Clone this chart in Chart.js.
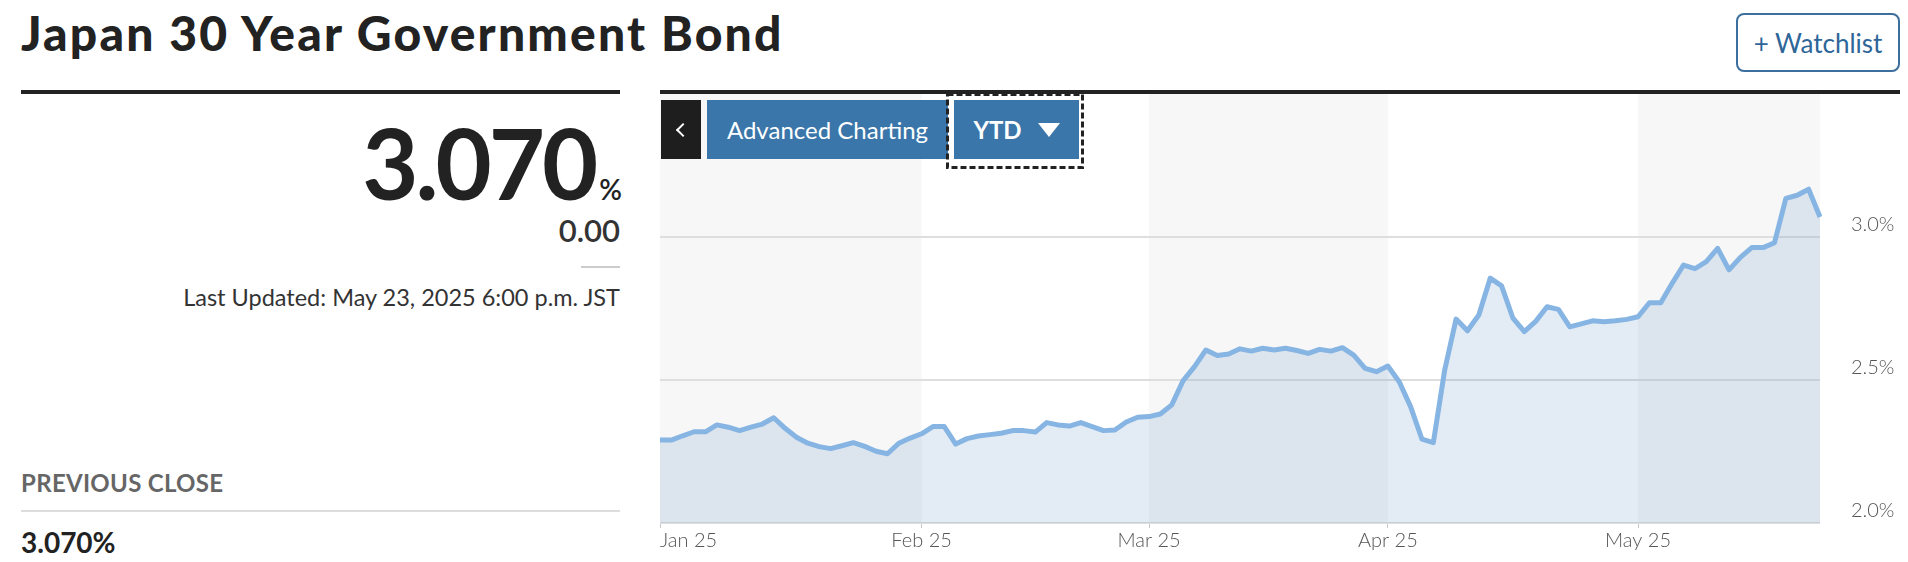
<!DOCTYPE html>
<html>
<head>
<meta charset="utf-8">
<title>Japan 30 Year Government Bond</title>
<script src="https://cdn.jsdelivr.net/npm/chart.js@4.4.1/dist/chart.umd.min.js"></script>
<style>
  html, body { margin: 0; padding: 0; background: #fff; }
  body { width: 1908px; height: 562px; position: relative; overflow: hidden; font-family: Lato, 'Open Sans', sans-serif; color: #222; }
  .abs { position: absolute; line-height: 1; white-space: nowrap; }
  #title { left: 21px; top: 9px; font-size: 48px; font-weight: 900; letter-spacing: 2.2px; color: #222; }
  .rule { position: absolute; background: #222; height: 4px; top: 90px; }
  #price { left: 21px; width: 601px; top: 114px; text-align: right; font-size: 97px; font-weight: 700; letter-spacing: -3px; color: #222; }
  #price span { font-size: 28px; font-weight: 600; letter-spacing: 0; margin-left: 4px; }
  #change { left: 21px; width: 599px; top: 215px; text-align: right; font-size: 31px; font-weight: 600; color: #333; }
  #shortRule { position: absolute; left: 581px; top: 266px; width: 39px; height: 2px; background: #ccc; }
  #updated { left: 21px; width: 599px; top: 286px; text-align: right; font-size: 23.5px; color: #333; }
  #prevLabel { left: 21px; top: 471px; font-size: 24px; font-weight: 700; color: #666; letter-spacing: 0.3px; }
  #prevRule { position: absolute; left: 21px; top: 510px; width: 599px; height: 2px; background: #ddd; }
  #prevValue { left: 21px; top: 528px; font-size: 28px; font-weight: 700; color: #222; }
  #watch { position: absolute; left: 1736px; top: 13px; width: 160px; height: 55px; border: 2px solid #3d6f9e; border-radius: 8px; color: #2e6699; font-size: 26px; display: flex; align-items: center; justify-content: center; }
  #chartBox { position: absolute; left: 660px; top: 94px; width: 1248px; height: 468px; }
  #back { position: absolute; left: 661px; top: 100px; width: 40px; height: 59px; background: #1e1e1e; z-index: 2; }
  #back::after { content: ''; position: absolute; left: 17px; top: 25px; width: 8px; height: 8px; border-left: 2.5px solid #fff; border-bottom: 2.5px solid #fff; transform: rotate(45deg); }
  #adv { position: absolute; left: 707px; top: 100px; width: 241px; height: 59px; background: #3a76a9; color: #fff; font-size: 24px; display: flex; align-items: center; justify-content: center; z-index: 2; }
  #ytdOutline { position: absolute; left: 946px; top: 93px; z-index: 3; }
  #ytd { position: absolute; left: 954px; top: 100px; width: 125px; height: 59px; background: #3a76a9; color: #fff; font-size: 24px; font-weight: 700; display: flex; align-items: center; justify-content: center; z-index: 2; }
  #ytd i { display: inline-block; width: 0; height: 0; border-left: 11px solid transparent; border-right: 11px solid transparent; border-top: 14px solid #fff; margin-left: 16px; }
</style>
</head>
<body>
<div id="title" class="abs">Japan 30 Year Government Bond</div>
<div id="watch">+ Watchlist</div>
<div class="rule" style="left:21px;width:599px"></div>
<div class="rule" style="left:660px;width:1240px"></div>

<div id="price" class="abs">3.070<span>%</span></div>
<div id="change" class="abs">0.00</div>
<div id="shortRule"></div>
<div id="updated" class="abs">Last Updated: May 23, 2025 6:00 p.m. JST</div>
<div id="prevLabel" class="abs">PREVIOUS CLOSE</div>
<div id="prevRule"></div>
<div id="prevValue" class="abs">3.070%</div>

<div id="chartBox"><canvas id="yieldChart"></canvas></div>
<div id="back"></div>
<div id="adv">Advanced Charting</div>
<div id="ytd">YTD<i></i></div>
<svg id="ytdOutline" width="138" height="76"><rect x="1.5" y="1.5" width="135" height="73" fill="none" stroke="#222" stroke-width="3" stroke-dasharray="6 3"/></svg>

<script>
// trading days, Jan 1 - May 23 2025
const dates = [
  '01-01','01-02','01-03','01-06','01-07','01-08','01-09','01-10','01-13','01-14','01-15','01-16',
  '01-17','01-20','01-21','01-22','01-23','01-24','01-27','01-28','01-29','01-30','01-31',
  '02-03','02-04','02-05','02-06','02-07','02-10','02-11','02-12','02-13','02-14','02-17','02-18',
  '02-19','02-20','02-21','02-24','02-25','02-26','02-27','02-28',
  '03-03','03-04','03-05','03-06','03-07','03-10','03-11','03-12','03-13','03-14','03-17','03-18',
  '03-19','03-20','03-21','03-24','03-25','03-26','03-27','03-28','03-31',
  '04-01','04-02','04-03','04-04','04-07','04-08','04-09','04-10','04-11','04-14','04-15','04-16',
  '04-17','04-18','04-21','04-22','04-23','04-24','04-25','04-28','04-29','04-30',
  '05-01','05-02','05-05','05-06','05-07','05-08','05-09','05-12','05-13','05-14','05-15','05-16',
  '05-19','05-20','05-21','05-22','05-23'
];

const yields = [
  2.290, 2.290, 2.305, 2.319, 2.319, 2.343, 2.335, 2.323, 2.335, 2.346, 2.368, 2.331,
  2.300, 2.279, 2.267, 2.260, 2.270, 2.281, 2.268, 2.251, 2.242, 2.279, 2.297,
  2.312, 2.337, 2.337, 2.276, 2.295, 2.304, 2.309, 2.314, 2.323, 2.323, 2.318, 2.351,
  2.343, 2.339, 2.351, 2.337, 2.323, 2.325, 2.353, 2.370,
  2.372, 2.381, 2.413, 2.498, 2.547, 2.605, 2.586, 2.591, 2.609, 2.601, 2.611, 2.605,
  2.611, 2.603, 2.593, 2.607, 2.601, 2.613, 2.587, 2.541, 2.529,
  2.549, 2.494, 2.407, 2.293, 2.281, 2.535, 2.713, 2.672, 2.727, 2.856, 2.829, 2.716,
  2.669, 2.705, 2.756, 2.747, 2.686, 2.696, 2.707, 2.704, 2.707, 2.712,
  2.721, 2.770, 2.770, 2.838, 2.902, 2.889, 2.914, 2.960, 2.885, 2.929, 2.963, 2.963,
  2.980, 3.135, 3.146, 3.167, 3.070
];

const monthLabels = ['Jan 25', 'Feb 25', 'Mar 25', 'Apr 25', 'May 25'];
const yTicks = [2.0, 2.5, 3.0];

// index of the first trading day of each month
const monthStarts = [];
dates.forEach((d, i) => {
  if (i === 0 || d.slice(0, 2) !== dates[i - 1].slice(0, 2)) monthStarts.push(i);
});

const monthBands = {
  id: 'monthBands',
  beforeDraw(chart) {
    const { ctx, chartArea, scales: { x } } = chart;
    ctx.save();
    ctx.fillStyle = '#f7f7f7';
    monthStarts.forEach((start, k) => {
      if (k % 2) return;
      const x0 = x.getPixelForValue(start);
      const x1 = k + 1 < monthStarts.length ? x.getPixelForValue(monthStarts[k + 1]) : chartArea.right;
      ctx.fillRect(x0, chartArea.top, x1 - x0, chartArea.bottom - chartArea.top);
    });
    ctx.restore();
  }
};

const tickFont = { family: 'Lato', size: 20, weight: 300 };

new Chart(document.getElementById('yieldChart'), {
  type: 'line',
  data: {
    labels: dates,
    datasets: [{
      data: yields,
      borderColor: '#86b5e3',
      backgroundColor: 'rgba(70,130,180,0.15)',
      borderWidth: 5,
      fill: 'start',
      pointRadius: 0,
      tension: 0,
      borderJoinStyle: 'round'
    }]
  },
  options: {
    responsive: true,
    maintainAspectRatio: false,
    animation: false,
    layout: { padding: 0 },
    plugins: { legend: { display: false }, tooltip: { enabled: false } },
    scales: {
      x: {
        grid: {
          drawOnChartArea: false,
          tickLength: 5,
          color: ctx => monthStarts.includes(ctx.index) ? '#c8c8c8' : 'transparent'
        },
        border: { display: false },
        ticks: {
          autoSkip: false,
          maxRotation: 0,
          minRotation: 0,
          align: 'inner',
          padding: 1,
          color: '#555',
          font: tickFont,
          callback: (v, i) => {
            const k = monthStarts.indexOf(i);
            return k >= 0 ? monthLabels[k] : '';
          }
        },
        afterFit: s => { s.paddingLeft = 0; s.paddingRight = 0; s.height = 39; }
      },
      y: {
        position: 'right',
        min: 2.0,
        max: 3.5,
        grid: {
          lineWidth: 2,
          tickLength: 28,
          tickColor: 'transparent',
          color: ctx => yTicks.includes(ctx.tick.value) ? '#dedede' : 'transparent'
        },
        border: { display: false },
        ticks: {
          stepSize: 0.5,
          padding: 3,
          labelOffset: -12,
          color: '#555',
          font: tickFont,
          callback: v => yTicks.includes(v) ? v.toFixed(1) + '%' : ''
        },
        afterFit: s => { s.width = 88; s.paddingTop = 0; s.paddingBottom = 0; }
      }
    }
  },
  plugins: [monthBands]
});
</script>
</body>
</html>
